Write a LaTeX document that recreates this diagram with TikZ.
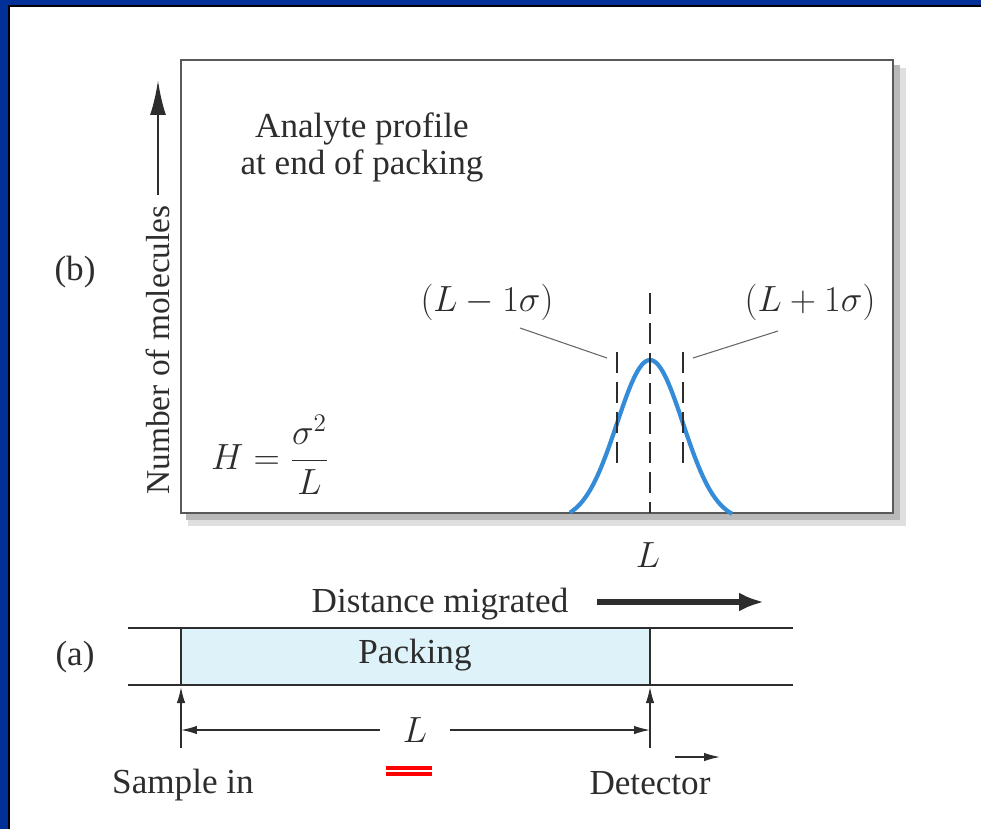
\documentclass[tikz,border=0pt]{standalone}
\usepackage{amsmath}
\usepackage{fontspec}
\setmainfont{Liberation Serif}
\usetikzlibrary{positioning,arrows.meta}
\definecolor{frameblue}{RGB}{0,48,152}
\definecolor{peakblue}{RGB}{52,140,216}
\definecolor{packfill}{RGB}{222,243,249}
\definecolor{ink}{RGB}{45,45,45}

\begin{document}
\begin{tikzpicture}[x=0.02cm,y=-0.02cm,
txt/.style={font=\fontsize{20}{21}\selectfont,text=ink,inner sep=0pt},
thinarrow/.style={-{Latex[length=3.2mm,width=1.7mm]},line width=0.8pt,ink},
boldarrow/.style={-{Latex[length=5mm,width=3.8mm]},line width=3pt,ink},
guide/.style={dash pattern=on 12pt off 5pt,line width=0.8pt,ink},
leader/.style={line width=0.6pt,gray!80!black},
tube/.style={line width=1.1pt,ink}
]
\useasboundingbox (0,0) rectangle (981,829);
% frame
\fill[frameblue] (0,0) rectangle (8,829);
\fill[frameblue] (0,0) rectangle (981,5);
\fill[black] (8,5) rectangle (10,829);
\fill[black] (8,5) rectangle (981,7);

% (b) plot box with shadow
\fill[gray!25] (188,68) rectangle (906,526);
\fill[gray!55] (186,65) rectangle (900,520);
\draw[fill=white,draw=gray!70!black,line width=1pt] (181,60) rectangle (893,513);

\node[txt] (blabel) at (75,272) {(b)};
\node[txt,font=\fontsize{19}{21}\selectfont,rotate=90] (ylab) at (158,350) {Number of molecules};
\coordinate (ytop) at (158,80);
\draw[-{Latex[length=7mm,width=3.2mm]},line width=1.6pt,ink,shorten <=0.2cm] (ylab.east) -- (ytop);

\node[txt,align=center] (profile) at (362,147) {Analyte profile\\at end of packing};
\node[txt] (plate) at (270,455) {$H = \dfrac{\sigma^2}{L}$};

% peak
\draw[peakblue,line width=2.4pt,domain=570:732,samples=80]
  plot (\x,{513-161*(exp(-((\x-650)/33)^2/2)-0.05)});
\coordinate (peak) at (650,360);
\draw[guide] (617,352) -- (617,463);
\draw[guide] (650,293) -- (650,513);
\draw[guide] (683,352) -- (683,463);

\node[txt] (minus) at (487,302) {$(L - 1\sigma)$};
\node[txt] (plus) at (810,302) {$(L + 1\sigma)$};
\coordinate (minushead) at (520,328);
\coordinate (minusfoot) at (607,358);
\coordinate (plushead) at (778,331);
\coordinate (plusfoot) at (693,358);
\draw[leader] (minushead) -- (minusfoot);
\draw[leader] (plushead) -- (plusfoot);

\node[txt] (Lmark) at (648,555) {$L$};

% (a) column
\node[txt] (dist) at (440,604) {Distance migrated};
\coordinate (diststart) at (597,602);
\coordinate (distend) at (764,602);
\draw[boldarrow] (diststart) -- (distend);

\fill[packfill] (181,628) rectangle (650,685);
\draw[tube] (128,628) -- (793,628);
\draw[tube] (128,685) -- (793,685);
\draw[tube] (181,628) -- (181,685);
\draw[tube] (650,628) -- (650,685);
\node[txt] (packing) at (415,655) {Packing};
\node[txt] (alabel) at (75,657) {(a)};

\coordinate (inlet) at (181,687);
\coordinate (outlet) at (650,687);
\coordinate (inbase) at (181,748);
\coordinate (outbase) at (650,748);
\draw[thinarrow] (inbase) -- (inlet);
\draw[thinarrow] (outbase) -- (outlet);

\node[txt] (Ldim) at (415,730) {$L$};
\draw[thinarrow] ([xshift=-0.45cm]Ldim.west) -- (inlet |- Ldim);
\draw[thinarrow] ([xshift=0.45cm]Ldim.east) -- (outlet |- Ldim);

\node[txt] (sample) at (183,785) {Sample in};
\node[txt] (detector) at (650,783) {Detector};
\coordinate (detstart) at (675,757);
\coordinate (detend) at (720,757);
\draw[thinarrow] (detstart) -- (detend);

\fill[red] (386,766) rectangle (432,770);
\fill[red] (386,772) rectangle (432,776);
\end{tikzpicture}
\end{document}
